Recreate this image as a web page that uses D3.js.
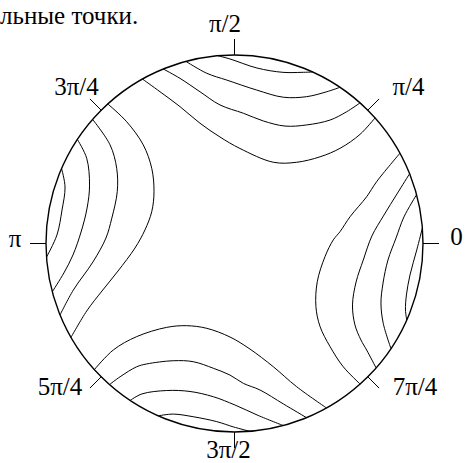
<!DOCTYPE html>
<html>
<head>
<meta charset="utf-8">
<script src="https://cdn.jsdelivr.net/npm/d3@7"></script>
<style>
  body { margin: 0; background: #fff; }
  svg { display: block; }
</style>
</head>
<body>
<svg id="chart" width="465" height="463"></svg>
<script>
// tick angles (multiples of pi/4) and their labels
const tickSteps = [0, 1, 2, 3, 4, 5, 6, 7]
const tickLabels = ["0", "π/4", "π/2", "3π/4", "π", "5π/4", "3π/2", "7π/4"]

const caption = "льные точки."

// level curves, points in unit-disk coordinates (x right, y up)
const topCurves = [
  [[-0.088, 0.995], [-0.024, 0.979], [0.119, 0.931], [0.257, 0.908], [0.358, 0.908], [0.416, 0.912]],
  [[-0.257, 0.963], [-0.147, 0.903], [-0.041, 0.867], [0.118, 0.814], [0.259, 0.776], [0.383, 0.779], [0.489, 0.805], [0.560, 0.829]],
  [[-0.378, 0.926], [-0.289, 0.876], [-0.183, 0.805], [-0.077, 0.735], [0.047, 0.691], [0.153, 0.650], [0.268, 0.623],
   [0.383, 0.629], [0.507, 0.655], [0.595, 0.699], [0.666, 0.746]],
  [[-0.488, 0.872], [-0.395, 0.805], [-0.289, 0.726], [-0.183, 0.638], [-0.077, 0.565], [0.029, 0.504], [0.206, 0.431],
   [0.330, 0.431], [0.454, 0.460], [0.560, 0.505], [0.666, 0.579], [0.745, 0.666]]
]

const leftCurves = [
  [[-0.670, 0.738], [-0.572, 0.646], [-0.484, 0.523], [-0.439, 0.399], [-0.427, 0.275], [-0.439, 0.169], [-0.475, 0.072],
   [-0.528, -0.024], [-0.618, -0.146], [-0.703, -0.252], [-0.784, -0.358], [-0.864, -0.496]],
  [[-0.749, 0.655], [-0.660, 0.523], [-0.625, 0.399], [-0.622, 0.275], [-0.651, 0.134], [-0.682, 0.029], [-0.751, -0.098],
   [-0.855, -0.247], [-0.926, -0.379]],
  [[-0.829, 0.549], [-0.784, 0.452], [-0.769, 0.310], [-0.782, 0.188], [-0.814, 0.061], [-0.857, -0.061], [-0.905, -0.156], [-0.963, -0.255]],
  [[-0.911, 0.395], [-0.899, 0.300], [-0.915, 0.178], [-0.942, 0.045], [-0.995, -0.072]]
]

const bottomCurves = [
  [[-0.740, -0.666], [-0.643, -0.565], [-0.519, -0.494], [-0.360, -0.445], [-0.254, -0.436], [-0.147, -0.450], [-0.024, -0.496],
   [0.082, -0.560], [0.206, -0.654], [0.330, -0.760], [0.489, -0.874]],
  [[-0.660, -0.745], [-0.607, -0.707], [-0.519, -0.654], [-0.466, -0.639], [-0.325, -0.622], [-0.219, -0.627], [-0.112, -0.662],
   [-0.024, -0.698], [0.047, -0.742], [0.135, -0.777], [0.259, -0.851], [0.383, -0.926]],
  [[-0.554, -0.833], [-0.491, -0.798], [-0.360, -0.780], [-0.236, -0.785], [-0.112, -0.813], [0.003, -0.857], [0.125, -0.912], [0.259, -0.966]],
  [[-0.404, -0.912], [-0.325, -0.905], [-0.219, -0.919], [-0.094, -0.945], [-0.006, -0.973], [0.082, -0.997]]
]

const rightCurves = [
  [[0.878, 0.479], [0.754, 0.328], [0.701, 0.248], [0.613, 0.142], [0.560, 0.063], [0.524, 0.019], [0.480, -0.070],
   [0.439, -0.203], [0.432, -0.335], [0.454, -0.441], [0.507, -0.547], [0.577, -0.654], [0.666, -0.745]],
  [[0.931, 0.371], [0.862, 0.263], [0.793, 0.151], [0.729, 0.040], [0.683, -0.088], [0.645, -0.204], [0.626, -0.326],
   [0.639, -0.432], [0.671, -0.512], [0.701, -0.565], [0.751, -0.660]],
  [[0.966, 0.259], [0.899, 0.141], [0.857, 0.029], [0.814, -0.088], [0.788, -0.210], [0.777, -0.316], [0.789, -0.423], [0.829, -0.557]],
  [[1.000, 0.082], [0.967, -0.034], [0.931, -0.167], [0.912, -0.273], [0.907, -0.353], [0.914, -0.406]]
]

const curves = [...topCurves, ...leftCurves, ...bottomCurves, ...rightCurves]

// layout
const cx = 234.5, cy = 243.5, R = 188.5
const tickLen = 16
const labelR = 222
// small hand nudges for label placement [dx, dy]
const labelNudge = [[0, -5.5], [17, 1], [-9.5, 3.5], [-1, 1.5], [2.5, -3.5], [-17.5, -12.5], [-6, -14.5], [23.5, -12.5]]

const svg = d3.select("#chart")

const x = d3.scaleLinear().domain([-1, 1]).range([cx - R, cx + R])
const y = d3.scaleLinear().domain([-1, 1]).range([cy + R, cy - R])

// snap ends of each curve onto the boundary circle
const snap = p => { const m = Math.hypot(p[0], p[1]); return [p[0] / m, p[1] / m] }
const curveData = curves.map(c => c.map((p, i) => (i === 0 || i === c.length - 1) ? snap(p) : p))

const line = d3.line()
  .x(d => x(d[0]))
  .y(d => y(d[1]))
  .curve(d3.curveCatmullRom.alpha(0.5))

svg.append("g")
  .selectAll("path")
  .data(curveData)
  .enter()
  .append("path")
  .attr("d", line)
  .attr("fill", "none")
  .attr("stroke", "#000")
  .attr("stroke-width", 1)

// boundary circle
svg.append("circle")
  .attr("cx", x(0))
  .attr("cy", y(0))
  .attr("r", x(1) - x(0))
  .attr("fill", "none")
  .attr("stroke", "#000")
  .attr("stroke-width", 1.4)

// ticks
const ang = s => s * Math.PI / 4
svg.append("g")
  .selectAll("line")
  .data(tickSteps)
  .enter()
  .append("line")
  .attr("x1", s => x(Math.cos(ang(s))))
  .attr("y1", s => y(Math.sin(ang(s))))
  .attr("x2", s => x(Math.cos(ang(s))) + tickLen * Math.cos(ang(s)))
  .attr("y2", s => y(Math.sin(ang(s))) - tickLen * Math.sin(ang(s)))
  .attr("stroke", "#000")
  .attr("stroke-width", 1)

// tick labels
svg.append("g")
  .selectAll("text")
  .data(tickSteps)
  .enter()
  .append("text")
  .attr("x", (s, i) => cx + labelR * Math.cos(ang(s)) + labelNudge[i][0])
  .attr("y", (s, i) => cy - labelR * Math.sin(ang(s)) + labelNudge[i][1] + 7)
  .attr("text-anchor", "middle")
  .attr("font-family", "Liberation Serif")
  .attr("font-size", 25)
  .text((s, i) => tickLabels[i])

// caption fragment
svg.append("text")
  .attr("x", 0)
  .attr("y", 24)
  .attr("font-family", "Liberation Serif")
  .attr("font-size", 25)
  .text(caption)
</script>
</body>
</html>
